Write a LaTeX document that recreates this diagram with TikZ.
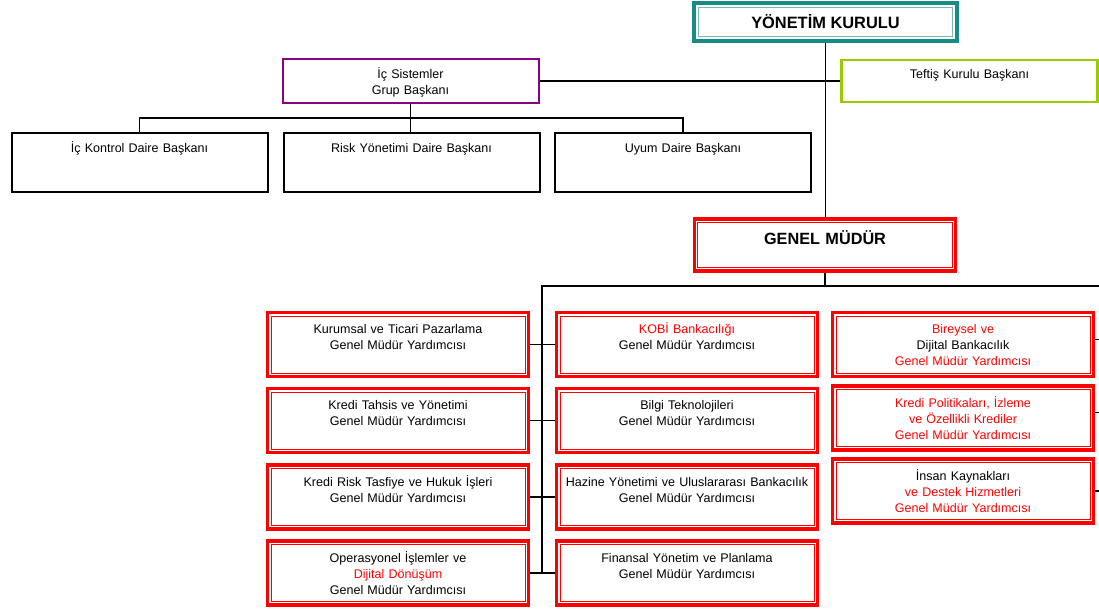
\documentclass[tikz,border=0pt]{standalone}
\usepackage{fontspec}
\setmainfont{Liberation Sans}
\definecolor{kurulteal}{HTML}{1A8A86}
\definecolor{grupmor}{HTML}{880088}
\definecolor{teftisyesil}{HTML}{99CC00}
\tikzset{
  every node/.style={inner sep=0pt, align=center, font=\fontsize{9.4}{12}\selectfont},
  ici/.style 2 args={path picture={\draw[#1,line width=0.6pt] ([xshift=#2,yshift=-#2]path picture bounding box.north west) rectangle ([xshift=-#2,yshift=#2]path picture bounding box.south east);}},
  kurulbox/.style={draw=kurulteal, line width=3pt, ici={kurulteal!60}{3.2pt}, minimum width=197pt, minimum height=28pt, font=\bfseries\fontsize{12.3}{14}\selectfont},
  gmbox/.style={draw=red, line width=2.4pt, ici={red}{2.6pt}, text width=196pt, text height=19.5pt, text depth=19.5pt, font=\bfseries\fontsize{12.2}{14}\selectfont},
  gmybox/.style={draw=red, line width=2.4pt, ici={red}{2.6pt}, text width=195.75pt, text height=15.75pt, text depth=32.25pt},
  dairebox/.style={draw, line width=1.5pt, text width=192pt, text height=15pt, text depth=29.25pt},
  grupbox/.style={draw=grupmor, line width=1.5pt, text width=192pt, text height=15pt, text depth=18pt},
  teftisbox/.style={draw=teftisyesil, line width=1.8pt, text width=192pt, text height=14.25pt, text depth=17.25pt},
  hat/.style={line width=0.8pt}
}
\begin{document}
\begin{tikzpicture}[x=0.75pt,y=-0.75pt]
\useasboundingbox (0,0) rectangle (1099,609);
% yonetim kurulu ve bagli birimler
\node[kurulbox] (yk) at (825.5,22) {YÖNETİM KURULU};
\node[teftisbox] (teftis) at (969.5,81) {Teftiş Kurulu Başkanı};
\node[grupbox] (icsis) at (410.5,81) {İç Sistemler\\ Grup Başkanı};
\node[dairebox] (ick) at (139.5,162.5) {İç Kontrol Daire Başkanı};
\node[dairebox] (risk) at (411.5,162.5) {Risk Yönetimi Daire Başkanı};
\node[dairebox] (uyum) at (683,162.5) {Uyum Daire Başkanı};
\node[gmbox] (gm) at (825,245) {GENEL MÜDÜR};
% genel mudur yardimcilari
\node[gmybox] (kur) at (398,344.5) {Kurumsal ve Ticari Pazarlama\\ Genel Müdür Yardımcısı};
\node[gmybox] (tahsis) at (398,420.5) {Kredi Tahsis ve Yönetimi\\ Genel Müdür Yardımcısı};
\node[gmybox] (tasfiye) at (398,497) {Kredi Risk Tasfiye ve Hukuk İşleri\\ Genel Müdür Yardımcısı};
\node[gmybox] (opr) at (398,573) {Operasyonel İşlemler ve\\ \textcolor{red}{Dijital Dönüşüm}\\ Genel Müdür Yardımcısı};
\node[gmybox] (kobi) at (687,344.5) {\textcolor{red}{KOBİ Bankacılığı}\\ Genel Müdür Yardımcısı};
\node[gmybox] (bilgi) at (687,420.5) {Bilgi Teknolojileri\\ Genel Müdür Yardımcısı};
\node[gmybox] (hazine) at (687,497) {Hazine Yönetimi ve Uluslararası Bankacılık\\ Genel Müdür Yardımcısı};
\node[gmybox] (fin) at (687,573) {Finansal Yönetim ve Planlama\\ Genel Müdür Yardımcısı};
\node[gmybox] (bir) at (963,344.5) {\textcolor{red}{Bireysel ve}\\ Dijital Bankacılık\\ \textcolor{red}{Genel Müdür Yardımcısı}};
\node[gmybox, text=red] (pol) at (963,418) {Kredi Politikaları, İzleme\\ ve Özellikli Krediler\\ Genel Müdür Yardımcısı};
\node[gmybox] (ik) at (963,491) {İnsan Kaynakları\\ \textcolor{red}{ve Destek Hizmetleri}\\ \textcolor{red}{Genel Müdür Yardımcısı}};
% baglantilar
\coordinate (busL) at (542,286);
\coordinate (busR) at (1099,286);
\draw[hat] (yk.south) -- (yk.south |- gm.north);
\draw[hat] (icsis.east) -- (teftis.west);
\draw[hat] (icsis.south) -- (icsis.south |- risk.north);
\draw[hat] (ick.north) -- ++(0,-14) -| (uyum.north);
\draw[hat] (gm.south) -- (gm.south |- busL);
\draw[hat] (busR) -- (busL) -- (busL |- opr.east);
\draw[hat] (kur.east) -- (kobi.west);
\draw[hat] (tahsis.east) -- (bilgi.west);
\draw[hat] (tasfiye.east) -- (hazine.west);
\draw[hat] (opr.east) -- (fin.west);
\draw[hat] ([yshift=4pt]bir.east) -- ([yshift=4pt]bir.east -| busR);
\draw[hat] ([yshift=4pt]pol.east) -- ([yshift=4pt]pol.east -| busR);
\draw[hat] (ik.east) -- (ik.east -| busR);
\end{tikzpicture}
\end{document}
